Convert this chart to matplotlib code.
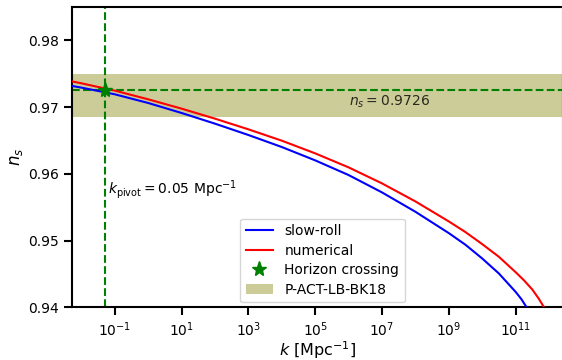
import numpy as np
import matplotlib
matplotlib.use('Agg')
import matplotlib.pyplot as plt

# 数据（从图上读取，log10 k 与 n_s）
logk_red = [-2.3, -2.0, -1.0, 0.0, 1.0, 2.0, 3.0, 4.0, 5.0, 6.0, 7.0, 8.0, 9.0, 9.5, 10.0,
            10.5, 11.0, 11.25, 11.5, 11.7, 11.85, 12.1]
ns_red = [0.97387, 0.97357, 0.97247, 0.97117, 0.96977, 0.96827, 0.96667, 0.96497, 0.96307, 0.96097,
          0.95857, 0.95587, 0.95287, 0.95127, 0.94947, 0.94757, 0.94527, 0.94405, 0.94267, 0.94125,
          0.94001, 0.93780]

logk_blue = [-2.3, -2.0, -1.0, 0.0, 1.0, 2.0, 3.0, 4.0, 5.0, 6.0, 7.0, 8.0, 9.0, 9.5, 10.0,
             10.5, 11.0, 11.17, 11.33, 11.6]
ns_blue = [0.97319, 0.97292, 0.97192, 0.97062, 0.96912, 0.96752, 0.96582, 0.96402, 0.96202, 0.95982,
           0.95722, 0.95432, 0.95112, 0.94937, 0.94732, 0.94507, 0.94232, 0.94125, 0.94001, 0.93760]

k_pivot = 0.05
ns_star = 0.9726
band_lo, band_hi = 0.9685, 0.9750
xticks = [1e-1, 1e1, 1e3, 1e5, 1e7, 1e9, 1e11]
yticks = [0.94, 0.95, 0.96, 0.97, 0.98]

fig = plt.figure(figsize=(5.62, 3.6), dpi=100)
ax = fig.add_axes([72 / 562, 1 - 307.3 / 360, 491 / 562, 300.3 / 360])

ax.axhspan(band_lo, band_hi, color='olive', alpha=0.4, lw=0, label='P-ACT-LB-BK18')
ax.plot(10 ** np.array(logk_blue), ns_blue, color='blue', lw=1.5, label='slow-roll', zorder=3)
ax.plot(10 ** np.array(logk_red), ns_red, color='red', lw=1.5, label='numerical', zorder=3)
ax.axvline(k_pivot, color='green', ls='--', lw=1.5, zorder=2)
ax.axhline(ns_star, color='green', ls='--', lw=1.5, zorder=2)
ax.plot([k_pivot], [ns_star], ls='none', marker='*', color='green', ms=11,
        label='Horizon crossing', zorder=4)

ax.text(10 ** 6.0, 0.9702, r'$n_s = 0.9726$', fontsize=10, color='k', alpha=0.8)
ax.text(0.062, 0.957, r'$k_{\rm pivot} = 0.05\ {\rm Mpc}^{-1}$', fontsize=10)

ax.set_xscale('log')
ax.set_xlim(10 ** -2.28, 10 ** 12.42)
ax.set_ylim(0.94, 0.985)
ax.set_xticks(xticks)
ax.xaxis.set_minor_locator(matplotlib.ticker.NullLocator())
ax.set_yticks(yticks)
ax.tick_params(axis='both', which='major', length=6, width=1.5, labelsize=10)
for s in ax.spines.values():
    s.set_linewidth(1.5)

ax.set_xlabel(r'$k$ [Mpc$^{-1}$]', fontsize=11.5, labelpad=0)
ax.set_ylabel(r'$n_s$', fontsize=12, labelpad=2)

handles, labels = ax.get_legend_handles_labels()
order = [labels.index(l) for l in ['slow-roll', 'numerical', 'Horizon crossing', 'P-ACT-LB-BK18']]
ax.legend([handles[i] for i in order], [labels[i] for i in order],
          loc='lower center', fontsize=10, bbox_to_anchor=(0.51, 0.0),
          borderaxespad=0.35, labelspacing=0.4)

fig.savefig('out.png', dpi=100)
